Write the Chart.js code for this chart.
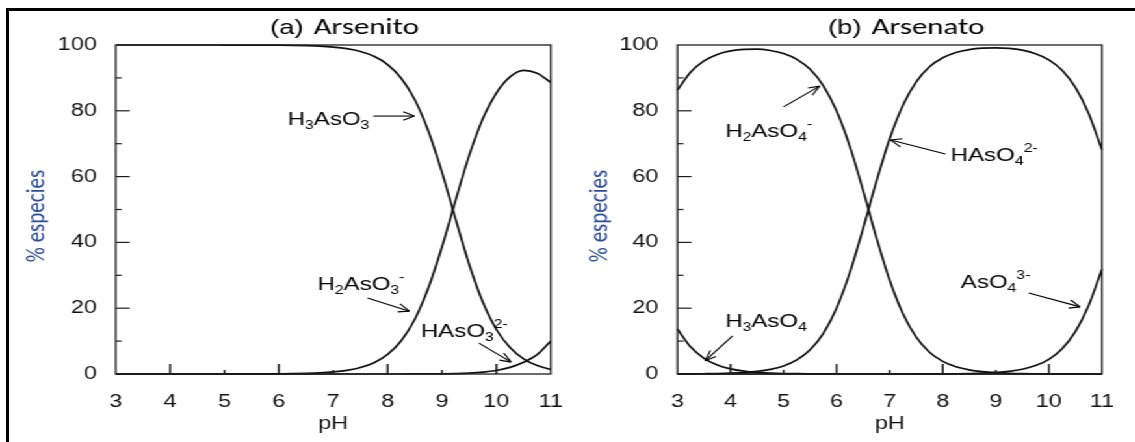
<!DOCTYPE html>
<html><head><meta charset="utf-8">
<script src="https://cdn.jsdelivr.net/npm/chart.js@4.4.0/dist/chart.umd.min.js"></script>
<style>
html,body{margin:0;padding:0;background:#fff;width:1135px;height:442px;overflow:hidden;}
#frame{position:absolute;left:6px;top:8px;width:1200px;height:500px;border:3px solid #000;box-sizing:border-box;}
#stretch{position:absolute;left:0;top:0;width:874px;height:442px;transform:scaleX(1.3);transform-origin:0 0;}
#stretch canvas{position:absolute;top:0;}
</style></head><body>
<div id="frame"></div>
<div id="stretch">
<canvas id="ca" width="450" height="442" style="left:0px;width:450px;height:442px"></canvas>
<canvas id="cb" width="444" height="442" style="left:430px;width:444px;height:442px"></canvas>
</div>
<script>
// ---------- data ----------
const pH = [3,3.25,3.5,3.75,4,4.25,4.5,4.75,5,5.25,5.5,5.75,6,6.25,6.5,6.75,7,7.25,7.5,7.75,8,8.25,8.5,8.75,9,9.25,9.5,9.75,10,10.25,10.5,10.75,11];

// (a) Arsenito
const H3AsO3 = [100,100,100,100,100,100,100,100,99.99,99.99,99.98,99.96,99.94,99.89,99.80,99.65,99.37,98.89,98.04,96.57,94.06,89.91,83.37,73.81,61.28,47.07,33.30,21.87,13.53,8.02,4.60,2.56,1.39];
const H2AsO3 = [0,0,0,0,0,0,0,0,0.01,0.01,0.02,0.04,0.06,0.11,0.20,0.35,0.63,1.11,1.96,3.43,5.94,10.09,16.63,26.19,38.67,52.81,66.44,77.58,85.40,90.3,92.3,91.4,88.6];
const HAsO3 = [0,0,0,0,0,0,0,0,0,0,0,0,0,0,0,0,0,0,0,0,0,0,0.01,0.02,0.05,0.12,0.26,0.55,1.07,2.01,3.6,5.9,10.0];

// (b) Arsenato
const H3AsO4 = [13.68,8.18,4.77,2.74,1.56,0.88,0.49,0.28,0.15,0.09,0.05,0.02,0.01,0,0,0,0,0,0,0,0,0,0,0,0,0,0,0,0,0,0,0,0];
const H2AsO4 = [86.30,91.78,95.16,97.13,98.20,98.68,98.72,98.33,97.40,95.64,92.60,87.60,79.91,69.12,55.73,41.45,28.47,18.29,11.18,6.61,3.83,2.19,1.24,0.70,0.39,0.22,0.12,0.07,0.04,0.02,0.01,0.01,0];
const HAsO4 = [0.02,0.04,0.08,0.14,0.25,0.44,0.78,1.39,2.45,4.27,7.36,12.38,20.07,30.88,44.27,58.55,71.53,81.71,88.81,93.37,96.13,97.73,98.61,99.04,99.14,98.96,98.42,97.37,95.50,92.30,87.12,79.18,68.13];
const AsO4 = [0,0,0,0,0,0,0,0,0,0,0,0,0,0,0,0,0,0,0.01,0.02,0.04,0.08,0.15,0.26,0.46,0.82,1.46,2.56,4.47,7.68,12.88,20.82,31.87];

// axes
const xTicks = [3,4,5,6,7,8,9,10,11];
const xInnerTicks = [4,5,6,7,8,9,10];
const yTicks = [0,20,40,60,80,100];
const yInnerTicks = [10,20,30,40,50,60,70,80,90];
const xTitle = 'pH';
const yTitle = '% especies';

// titles & labels
const titleA = ['(a) ', 'Arsenito'];
const titleB = ['(b) ', 'Arsenato'];
const notesA = [
  {x:6.16, y:77.8, text:'H_3AsO_3', from:[7.74,78.4], to:[8.49,78.4]},
  {x:6.71, y:27.7, text:'H_2AsO_3^-', from:[7.63,23.1], to:[8.40,19.1]},
  {x:8.61, y:13.4, text:'HAsO_3^{2-}', from:[9.68,9.4], to:[10.27,3.6]}
];
const notesB = [
  {x:3.90, y:74.2, text:'H_2AsO_4^-', from:[5.00,81.2], to:[5.68,87.5]},
  {x:8.15, y:66.9, text:'HAsO_4^{2-}', from:[8.05,66.9], to:[7.02,71.1]},
  {x:3.90, y:16.4, text:'H_3AsO_4', from:[4.04,11.6], to:[3.52,4.0]},
  {x:8.34, y:28.3, text:'AsO_4^{3-}', from:[9.62,24.6], to:[10.59,20.4]}
];

// ---------- drawing ----------
const S = 1.3;             // horizontal stretch of the original figure
const SANS = '"Liberation Sans", Arial, Helvetica, sans-serif';
const HUM = 'Carlito, Lato, "Open Sans", sans-serif';

function parseRich(str){
  const out=[]; let i=0;
  while(i<str.length){
    const c=str[i];
    if(c==='_'||c==='^'){
      let t; i++;
      if(str[i]==='{'){const j=str.indexOf('}',i); t=str.slice(i+1,j); i=j+1;}
      else {t=str[i]; i++;}
      out.push({t, m:c==='_'?'sub':'sup'});
    } else {
      if(out.length && out[out.length-1].m==='n') out[out.length-1].t+=c; else out.push({t:c,m:'n'});
      i++;
    }
  }
  return out;
}
function drawRich(ctx,x,yc,str,size){
  const parts=parseRich(str);
  const base=yc+0.36*size;
  ctx.textAlign='left'; ctx.textBaseline='alphabetic';
  let cx=x;
  for(const p of parts){
    let fs=size, dy=0;
    if(p.m==='sub'){fs=size*0.66; dy=size*0.22;}
    if(p.m==='sup'){fs=size*0.66; dy=-size*0.48;}
    ctx.font=fs+'px '+SANS;
    ctx.fillText(p.t,cx,base+dy);
    cx+=ctx.measureText(p.t).width;
  }
}
function arrow(ctx,x1,y1,x2,y2){
  ctx.beginPath(); ctx.moveTo(x1,y1); ctx.lineTo(x2,y2); ctx.stroke();
  const dx=(x2-x1)*S, dy=y2-y1, L=Math.hypot(dx,dy), ux=dx/L, uy=dy/L;
  const len=11, w=4.2;
  for(const sgn of [1,-1]){
    const hx=-ux*len - uy*w*sgn, hy=-uy*len + ux*w*sgn;
    ctx.beginPath(); ctx.moveTo(x2,y2); ctx.lineTo(x2+hx/S,y2+hy); ctx.stroke();
  }
}

const deco = {
  id:'deco',
  afterDatasetsDraw(chart,args,o){
    const {ctx, chartArea:a, scales:{x,y}} = chart;
    ctx.save();
    ctx.strokeStyle='#1e1e1e'; ctx.lineWidth=1.3;
    ctx.strokeRect(a.left,a.top,a.right-a.left,a.bottom-a.top);
    ctx.lineWidth=1.5;
    for(const v of xInnerTicks){
      const px=x.getPixelForValue(v), len=(v%2===0)?10:4;
      ctx.beginPath(); ctx.moveTo(px,a.bottom); ctx.lineTo(px,a.bottom-len); ctx.stroke();
    }
    ctx.lineWidth=1.2;
    for(const v of yInnerTicks){
      const py=y.getPixelForValue(v), len=((v%20===0)?14:6)/S;
      ctx.beginPath(); ctx.moveTo(a.left,py); ctx.lineTo(a.left+len,py); ctx.stroke();
    }
    // y axis title (placed a little below the axis centre, as in the figure)
    ctx.save();
    ctx.translate(a.left-o.yTitleDx, 216);
    ctx.rotate(-Math.PI/2);
    ctx.fillStyle='#2a4c9c'; ctx.font='21px '+HUM; ctx.textAlign='center'; ctx.textBaseline='middle';
    ctx.fillText(yTitle,0,0);
    ctx.restore();
    // title
    ctx.fillStyle='#000'; ctx.textBaseline='middle'; ctx.textAlign='left';
    let tx=x.getPixelForValue(o.titleX);
    ctx.font='21px '+SANS; ctx.fillText(o.title[0],tx,28);
    tx+=ctx.measureText(o.title[0]).width+2;
    ctx.save(); ctx.translate(tx,28); ctx.scale(1.08,1);
    ctx.font='22px '+HUM; ctx.fillText(o.title[1],0,0);
    ctx.restore();
    // notes
    ctx.fillStyle='#000'; ctx.strokeStyle='#000'; ctx.lineWidth=1.1;
    for(const n of o.notes){
      drawRich(ctx,x.getPixelForValue(n.x),y.getPixelForValue(n.y),n.text,18.5);
      arrow(ctx,x.getPixelForValue(n.from[0]),y.getPixelForValue(n.from[1]),x.getPixelForValue(n.to[0]),y.getPixelForValue(n.to[1]));
    }
    ctx.restore();
  }
};

function ds(vals){
  return {data:pH.map((v,i)=>({x:v,y:vals[i]})), borderColor:'#111', borderWidth:1.7,
          pointRadius:0, cubicInterpolationMode:'monotone', fill:false, clip:false};
}
function makeChart(id, series, yWidth, rightPad, title, titleX, notes){
  return new Chart(document.getElementById(id), {
    type:'line',
    data:{datasets:series.map(ds)},
    options:{
      responsive:false, animation:false, devicePixelRatio:1,
      layout:{padding:{top:45,right:rightPad,bottom:0,left:0}},
      plugins:{legend:{display:false}, tooltip:{enabled:false},
               deco:{title, titleX, notes, yTitleDx:(115.7-38)/1.3}},
      scales:{
        x:{type:'linear', min:3, max:11,
           afterBuildTicks:s=>{s.ticks=xTicks.map(v=>({value:v}));},
           afterFit:s=>{s.height=68;},
           grid:{display:false, drawTicks:false}, border:{display:false},
           ticks:{color:'#111', padding:17, font:{family:SANS,size:18}},
           title:{display:true, text:xTitle, color:'#111', font:{family:SANS,size:18}, padding:{top:0,bottom:7}}},
        y:{type:'linear', min:0, max:100,
           afterBuildTicks:s=>{s.ticks=yTicks.map(v=>({value:v}));},
           afterFit:s=>{s.width=yWidth;},
           grid:{display:false, drawTicks:false}, border:{display:false},
           ticks:{color:'#111', padding:14.6, font:{family:SANS,size:18}},
           title:{display:false, text:yTitle}}
      }
    },
    plugins:[deco]
  });
}
makeChart('ca',[H3AsO3,H2AsO3,HAsO3], 89.0, 21.9, titleA, 5.84, notesA);
makeChart('cb',[H3AsO4,H2AsO4,HAsO4,AsO4], 91.15, 13.8, titleB, 5.84, notesB);
</script>
</body></html>
